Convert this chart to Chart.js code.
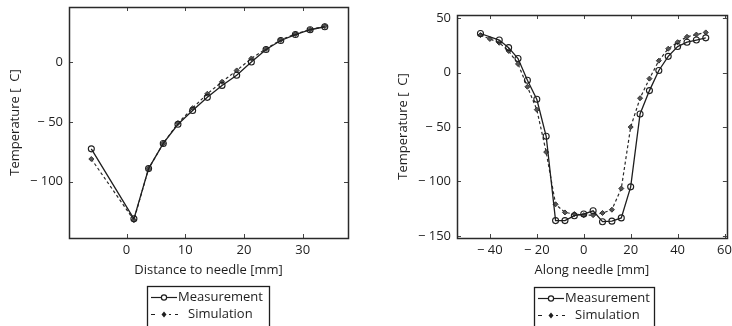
<!DOCTYPE html>
<html>
<head>
<meta charset="utf-8">
<script src="https://cdn.jsdelivr.net/npm/chart.js@4.4.1/dist/chart.umd.min.js"></script>
<style>
body { margin: 0; width: 732px; height: 326px; overflow: hidden; background: #fff; }
.panel { position: absolute; top: 0; width: 366px; height: 326px; }
</style>
</head>
<body>
<div class="panel" style="left:0"><canvas id="distance-chart" width="366" height="326"></canvas></div>
<div class="panel" style="left:366px"><canvas id="needle-chart" width="366" height="326"></canvas></div>
<script>
// left panel: distance to needle
var distX = [-6, 1.25, 3.75, 6.25, 8.75, 11.25, 13.75, 16.25, 18.75, 21.25, 23.75, 26.25, 28.75, 31.25, 33.75];
var distMeasured = [-72.5, -131, -89, -68, -52, -40.5, -29.5, -19.5, -11, 0, 10.5, 18, 23, 27, 29.5];
var distSimulated = [-81, -132, -89, -68, -51, -38.5, -26.5, -16.5, -7, 3, 11, 18.5, 23.5, 27, 30];

// right panel: along needle
var alongXMeasured = [-44, -36, -32, -28, -24, -20, -16, -12, -8, -4, 0, 4, 8, 12, 16, 20, 24, 28, 32, 36, 40, 44, 48, 52];
var alongMeasured = [36, 30, 23, 13, -7, -24.5, -58.5, -136, -136, -131.5, -130, -127, -137, -136.5, -133.5, -105, -38, -16.5, 2, 15, 24, 28, 30, 32];
var alongXSimulated = [-44, -40, -36, -32, -28, -24, -20, -16, -12, -8, -4, 0, 4, 8, 12, 16, 20, 24, 28, 32, 36, 40, 44, 48, 52];
var alongSimulated = [34.5, 31, 27.5, 20, 8, -13, -34, -73, -121, -128.5, -130, -131, -131, -129, -126, -106.5, -50, -23.5, -5.5, 11, 22, 28, 33, 35, 37];

var seriesNames = ['Measurement', 'Simulation'];

var inkColor = '#1e1e1e';
var fontFamily = '"Open Sans", "DejaVu Sans", sans-serif';
var fontSize = 13;

function zip(xs, ys) {
    var pts = [];
    for (var i = 0; i < xs.length; i++) {
        pts.push({ x: xs[i], y: ys[i] });
    }
    return pts;
}

function minusLabel(value) {
    return value < 0 ? '\u2212 ' + (-value) : '' + value;
}

// box round the plot with inward tick marks on all four sides
var frameTicks = {
    id: 'frameTicks',
    afterDraw: function(chart) {
        var ctx = chart.ctx;
        var a = chart.chartArea;
        var xs = chart.scales.x;
        var ys = chart.scales.y;
        ctx.save();
        ctx.strokeStyle = '#444';
        ctx.lineWidth = 1;
        ctx.beginPath();
        xs.ticks.forEach(function(t) {
            var px = Math.round(xs.getPixelForValue(t.value)) + 0.5;
            ctx.moveTo(px, a.bottom); ctx.lineTo(px, a.bottom - 4);
            ctx.moveTo(px, a.top); ctx.lineTo(px, a.top + 4);
        });
        ys.ticks.forEach(function(t) {
            var py = Math.round(ys.getPixelForValue(t.value)) + 0.5;
            ctx.moveTo(a.left, py); ctx.lineTo(a.left + 4, py);
            ctx.moveTo(a.right, py); ctx.lineTo(a.right - 4, py);
        });
        ctx.stroke();
        ctx.lineWidth = 1.5;
        ctx.strokeStyle = '#2a2a2a';
        ctx.strokeRect(Math.round(a.left) + 0.5, Math.round(a.top) + 0.5, Math.round(a.right - a.left), Math.round(a.bottom - a.top));
        ctx.restore();
    }
};

// boxed legend under the plot
var boxedLegend = {
    id: 'boxedLegend',
    afterDraw: function(chart, args, opts) {
        var ctx = chart.ctx;
        var left = opts.left;
        var top = opts.top;
        ctx.save();
        ctx.strokeStyle = inkColor;
        ctx.lineWidth = 1.3;
        ctx.strokeRect(left + 0.5, top + 0.5, opts.width, opts.height);

        var rows = [top + 11, top + 28];
        ctx.fillStyle = inkColor;
        ctx.font = fontSize + 'px ' + fontFamily;
        ctx.textBaseline = 'middle';
        ctx.fillText(seriesNames[0], left + 31, rows[0]);
        ctx.fillText(seriesNames[1], left + 41, rows[1]);

        // measurement sample
        ctx.lineWidth = 1.2;
        ctx.beginPath();
        ctx.moveTo(left + 4, rows[0] + 0.5);
        ctx.lineTo(left + 30, rows[0] + 0.5);
        ctx.stroke();
        ctx.fillStyle = '#fff';
        ctx.beginPath();
        ctx.arc(left + 17, rows[0] + 0.5, 2.6, 0, Math.PI * 2);
        ctx.fill();
        ctx.stroke();

        // simulation sample
        ctx.setLineDash([4, 4]);
        ctx.beginPath();
        ctx.moveTo(left + 4, rows[1] + 0.5);
        ctx.lineTo(left + 31, rows[1] + 0.5);
        ctx.stroke();
        ctx.setLineDash([]);
        ctx.fillStyle = '#fff';
        ctx.fillRect(left + 12, rows[1] - 3, 10, 7);
        ctx.fillStyle = inkColor;
        ctx.beginPath();
        ctx.moveTo(left + 17, rows[1] - 2.5);
        ctx.lineTo(left + 19.5, rows[1] + 0.5);
        ctx.lineTo(left + 17, rows[1] + 3.5);
        ctx.lineTo(left + 14.5, rows[1] + 0.5);
        ctx.closePath();
        ctx.fill();
        ctx.restore();
    }
};

function buildChart(canvasId, cfg) {
    var ctx = document.getElementById(canvasId);
    return new Chart(ctx, {
        type: 'line',
        data: {
            datasets: [{
                label: seriesNames[0],
                data: zip(cfg.measX, cfg.measY),
                borderColor: inkColor,
                borderWidth: 1.3,
                pointStyle: 'circle',
                pointRadius: 3,
                pointBorderWidth: 1.1,
                pointBorderColor: inkColor,
                pointBackgroundColor: 'rgba(255,255,255,0)',
                tension: 0
            }, {
                label: seriesNames[1],
                data: zip(cfg.simX, cfg.simY),
                borderColor: '#2a2a2a',
                borderWidth: 1.2,
                borderDash: [3, 2.5],
                pointStyle: 'rectRot',
                pointRadius: 2.5,
                pointBorderWidth: 1,
                pointBorderColor: '#333',
                pointBackgroundColor: '#555',
                tension: 0
            }]
        },
        options: {
            responsive: false,
            animation: false,
            devicePixelRatio: 1,
            layout: {
                padding: cfg.padding
            },
            plugins: {
                legend: { display: false },
                tooltip: { enabled: false },
                boxedLegend: cfg.legend
            },
            scales: {
                x: {
                    type: 'linear',
                    min: cfg.xMin,
                    max: cfg.xMax,
                    grid: { display: false, drawTicks: false },
                    border: { display: false },
                    ticks: {
                        stepSize: cfg.xStep,
                        includeBounds: false,
                        padding: 4,
                        color: inkColor,
                        font: { family: fontFamily, size: fontSize },
                        callback: minusLabel
                    },
                    title: {
                        display: true,
                        text: cfg.xTitle,
                        color: inkColor,
                        font: { family: fontFamily, size: fontSize },
                        padding: { top: 2, bottom: 1 }
                    },
                    afterFit: function(scale) {
                        scale.height = 41;
                        scale.paddingLeft = 0;
                        scale.paddingRight = 0;
                    }
                },
                y: {
                    type: 'linear',
                    min: cfg.yMin,
                    max: cfg.yMax,
                    grid: { display: false, drawTicks: false },
                    border: { display: false },
                    ticks: {
                        stepSize: 50,
                        includeBounds: false,
                        padding: 6,
                        color: inkColor,
                        font: { family: fontFamily, size: fontSize },
                        callback: minusLabel
                    },
                    title: {
                        display: true,
                        text: 'Temperature [  C]',
                        color: inkColor,
                        font: { family: fontFamily, size: fontSize },
                        padding: { top: 7, bottom: 0 }
                    },
                    afterFit: function(scale) {
                        scale.width = 69;
                        scale.paddingTop = 0;
                        scale.paddingBottom = 0;
                    }
                }
            }
        },
        plugins: [frameTicks, boxedLegend]
    });
}

buildChart('distance-chart', {
    measX: distX, measY: distMeasured,
    simX: distX, simY: distSimulated,
    xMin: -9.8, xMax: 37.7, xStep: 10,
    yMin: -147, yMax: 46,
    xTitle: 'Distance to needle [mm]',
    padding: { left: 0, right: 18, top: 7, bottom: 47 },
    legend: { left: 147, top: 286, width: 122, height: 45 }
});

buildChart('needle-chart', {
    measX: alongXMeasured, measY: alongMeasured,
    simX: alongXSimulated, simY: alongSimulated,
    xMin: -54, xMax: 61, xStep: 20,
    yMin: -152, yMax: 53,
    xTitle: 'Along needle [mm]',
    padding: { left: 22, right: 3, top: 15, bottom: 47 },
    legend: { left: 168, top: 287, width: 120, height: 45 }
});
</script>
</body>
</html>
